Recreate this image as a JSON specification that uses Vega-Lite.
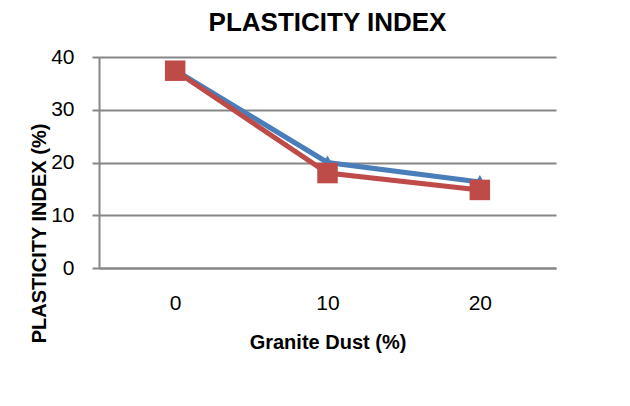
{
  "$schema": "https://vega.github.io/schema/vega-lite/v6.json",
  "autosize": "none",
  "padding": {"left": 99, "top": 57, "right": 74, "bottom": 138},
  "width": 457,
  "height": 211,
  "background": "white",
  "title": {
    "text": "PLASTICITY INDEX",
    "font": "Liberation Sans, Arial, sans-serif",
    "fontSize": 26,
    "fontWeight": "bold",
    "color": "#000000",
    "anchor": "middle",
    "offset": 10
  },
  "data": {
    "values": [
      {"gd": "0", "pi": 37.5, "series": "Series1"},
      {"gd": "10", "pi": 20.0, "series": "Series1"},
      {"gd": "20", "pi": 16.3, "series": "Series1"},
      {"gd": "0", "pi": 37.4, "series": "Series2"},
      {"gd": "10", "pi": 18.0, "series": "Series2"},
      {"gd": "20", "pi": 14.8, "series": "Series2"}
    ]
  },
  "encoding": {
    "x": {
      "field": "gd",
      "type": "ordinal",
      "sort": ["0", "10", "20"],
      "scale": {"type": "point", "padding": 0.5},
      "axis": {
        "title": "Granite Dust (%)",
        "labelAngle": 0,
        "labelFont": "Liberation Sans, Arial, sans-serif",
        "labelFontSize": 21,
        "labelColor": "#000000",
        "labelPadding": 24,
        "ticks": false,
        "domainColor": "#868686",
        "domainWidth": 2,
        "titleFont": "Liberation Sans, Arial, sans-serif",
        "titleFontSize": 20,
        "titleFontWeight": "bold",
        "titleColor": "#000000",
        "titleBaseline": "middle",
        "titleY": 74
      }
    },
    "y": {
      "field": "pi",
      "type": "quantitative",
      "scale": {"domain": [0, 40], "nice": false},
      "axis": {
        "title": "PLASTICITY INDEX (%)",
        "values": [0, 10, 20, 30, 40],
        "labelFont": "Liberation Sans, Arial, sans-serif",
        "labelFontSize": 21,
        "labelColor": "#000000",
        "labelPadding": 18,
        "tickSize": 7,
        "tickColor": "#868686",
        "tickWidth": 2,
        "grid": true,
        "gridColor": "#868686",
        "gridWidth": 2,
        "domainColor": "#868686",
        "domainWidth": 2,
        "titleFont": "Liberation Sans, Arial, sans-serif",
        "titleFontSize": 20,
        "titleFontWeight": "bold",
        "titleColor": "#000000",
        "titleAlign": "center",
        "titleBaseline": "middle",
        "titleAngle": -90,
        "titleX": -60,
        "titleY": 176
      }
    },
    "color": {
      "field": "series",
      "type": "nominal",
      "scale": {"domain": ["Series1", "Series2"], "range": ["#4A7EBB", "#BE4B48"]},
      "legend": null
    }
  },
  "layer": [
    {
      "mark": {"type": "line", "strokeWidth": 5}
    },
    {
      "mark": {"type": "point", "filled": true, "opacity": 1},
      "encoding": {
        "shape": {
          "field": "series",
          "type": "nominal",
          "scale": {"domain": ["Series1", "Series2"], "range": ["triangle-up", "square"]},
          "legend": null
        },
        "size": {
          "field": "series",
          "type": "nominal",
          "scale": {"domain": ["Series1", "Series2"], "range": [260, 420]},
          "legend": null
        }
      }
    }
  ],
  "config": {
    "view": {"stroke": null}
  }
}
